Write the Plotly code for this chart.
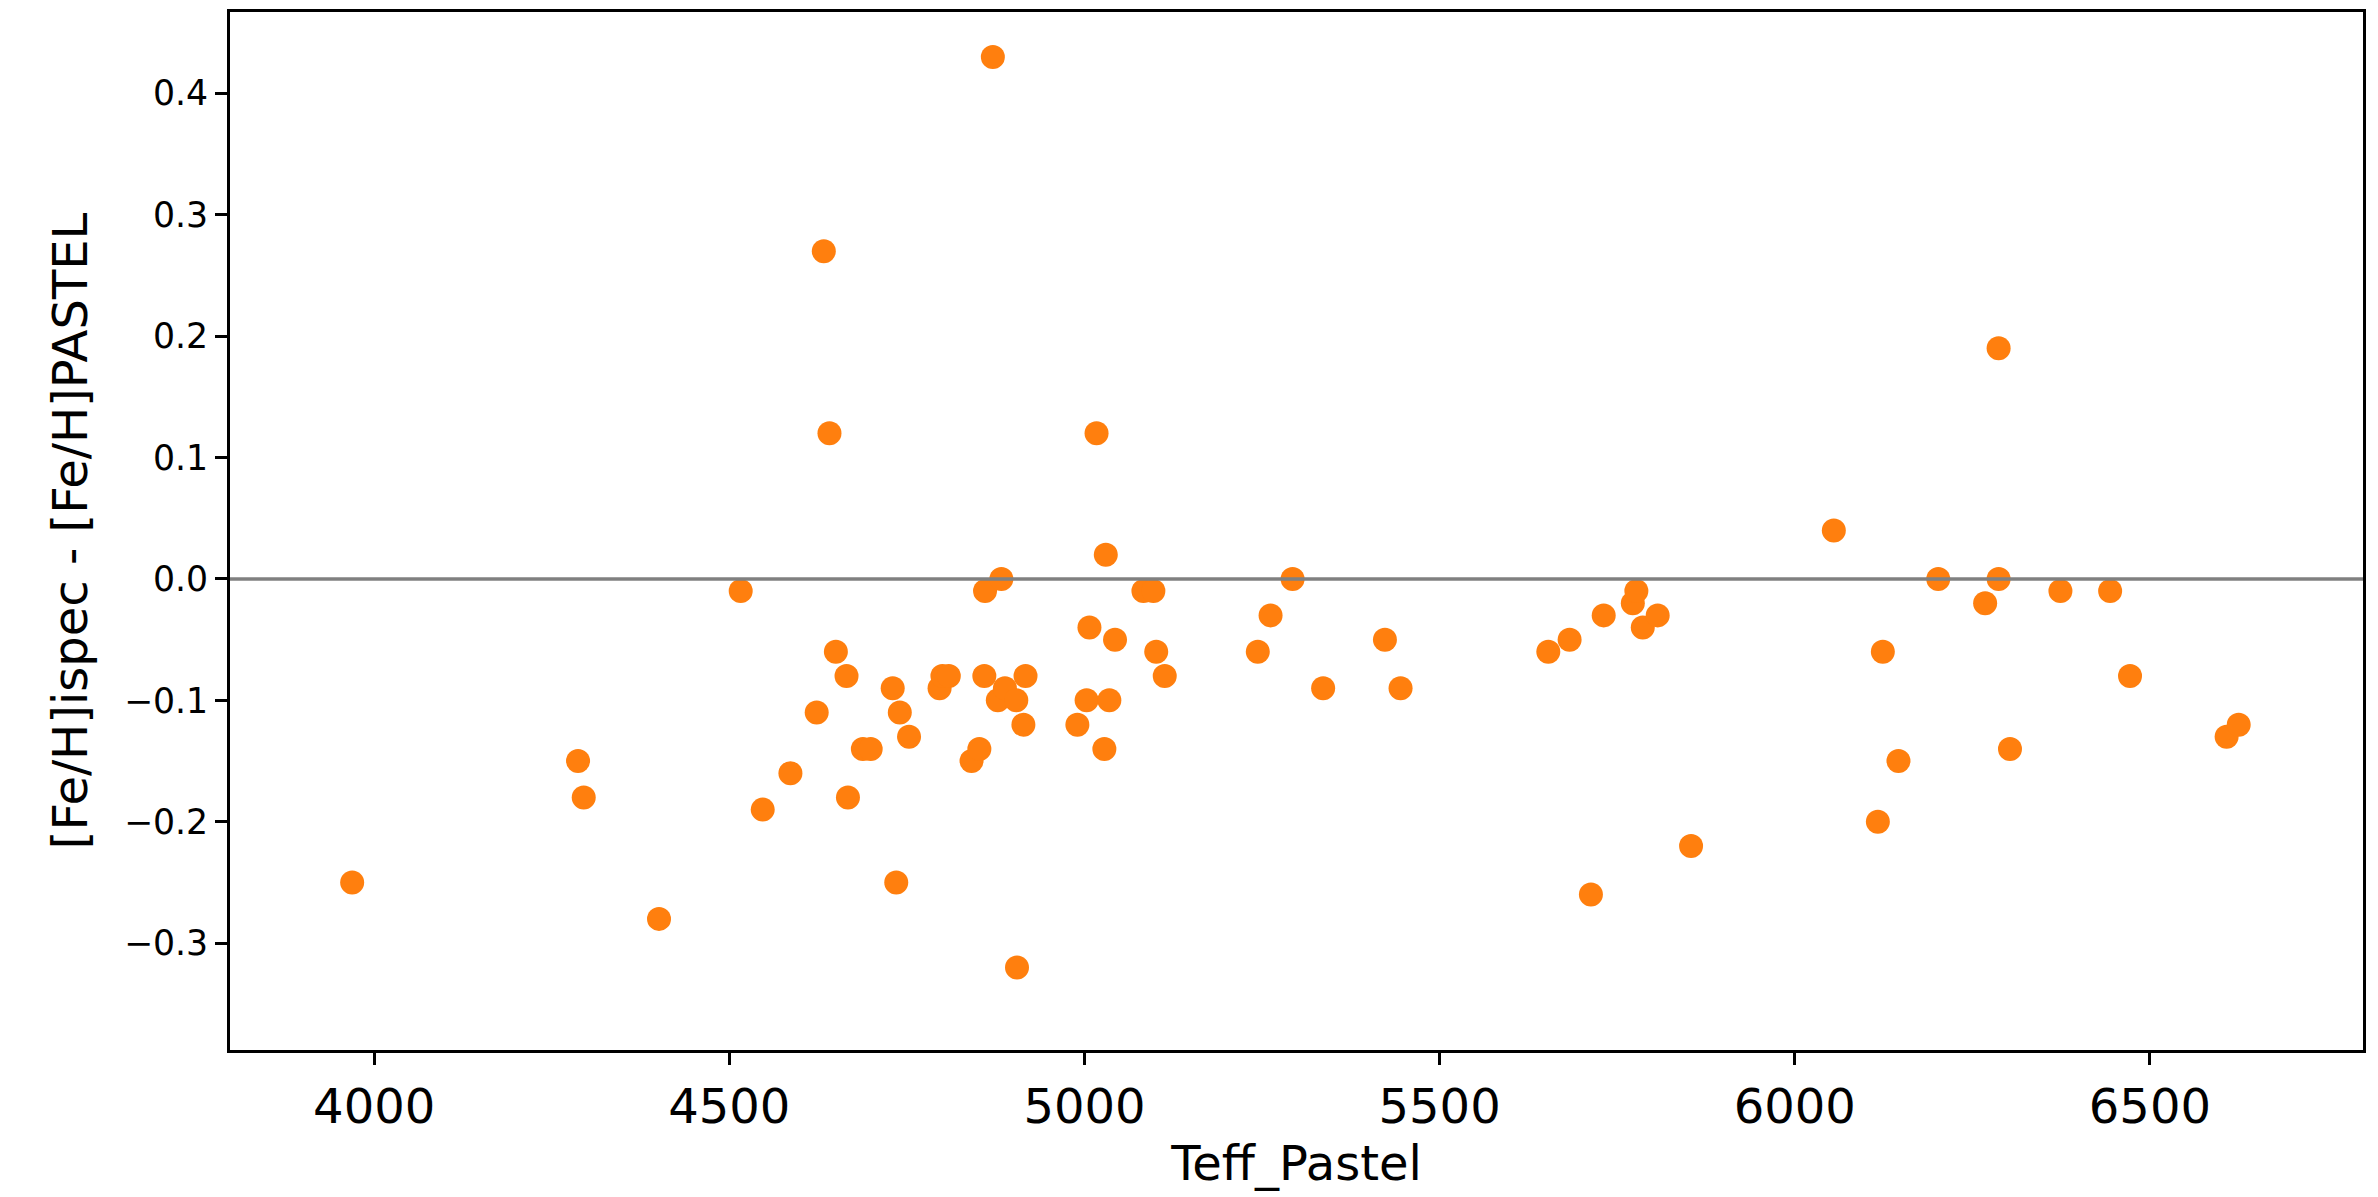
import plotly.graph_objects as go

teff_pastel = [
    3969, 4287, 4295, 4401, 4516, 4547, 4586, 4623, 4633, 4641,
    4650, 4665, 4667, 4688, 4699, 4730, 4735, 4740, 4753, 4796,
    4800, 4809, 4841, 4852, 4859, 4860, 4871, 4878, 4883, 4888,
    4904, 4905, 4914, 4917, 4990, 5003, 5007, 5017, 5028, 5030,
    5035, 5043, 5083, 5097, 5101, 5113, 5244, 5262, 5293, 5336,
    5423, 5445, 5653, 5683, 5713, 5731, 5772, 5777, 5786, 5807,
    5854, 6055, 6117, 6124, 6146, 6202, 6268, 6287, 6287, 6303,
    6374, 6444, 6472, 6608, 6625,
]
feh_diff = [
    -0.25, -0.15, -0.18, -0.28, -0.01, -0.19, -0.16, -0.11, 0.27, 0.12,
    -0.06, -0.08, -0.18, -0.14, -0.14, -0.09, -0.25, -0.11, -0.13, -0.09,
    -0.08, -0.08, -0.15, -0.14, -0.08, -0.01, 0.43, -0.10, 0.00, -0.09,
    -0.10, -0.32, -0.12, -0.08, -0.12, -0.10, -0.04, 0.12, -0.14, 0.02,
    -0.10, -0.05, -0.01, -0.01, -0.06, -0.08, -0.06, -0.03, 0.00, -0.09,
    -0.05, -0.09, -0.06, -0.05, -0.26, -0.03, -0.02, -0.01, -0.04, -0.03,
    -0.22, 0.04, -0.20, -0.06, -0.15, 0.00, -0.02, 0.19, 0.00, -0.14,
    -0.01, -0.01, -0.08, -0.13, -0.12,
]

x_ticks = [4000, 4500, 5000, 5500, 6000, 6500]
y_ticks = [-0.3, -0.2, -0.1, 0.0, 0.1, 0.2, 0.3, 0.4]
reference_level = 0.0

FONT = "DejaVu Sans"

fig = go.Figure()
fig.add_trace(go.Scatter(
    x=teff_pastel, y=feh_diff, mode="markers",
    marker=dict(color="#ff7f0e", size=24, line=dict(width=0)),
    showlegend=False,
))

fig.add_shape(type="line", xref="paper", x0=0, x1=1, yref="y",
              y0=reference_level, y1=reference_level,
              line=dict(color="#808080", width=3.5), layer="above")

fig.update_layout(
    width=2378, height=1197,
    margin=dict(l=230, r=15, t=12, b=147, autoexpand=False),
    paper_bgcolor="white", plot_bgcolor="white",
    font=dict(family=FONT, color="black"),
)
fig.update_xaxes(
    range=[3797, 6800], tickvals=x_ticks, ticktext=[str(v) for v in x_ticks],
    showgrid=False, zeroline=False,
    showline=True, linecolor="black", linewidth=2.8, mirror=True,
    ticks="outside", ticklen=12, tickwidth=2.8, tickcolor="black",
    tickfont=dict(family=FONT, size=48, color="black"),
    title=dict(text="Teff_Pastel", font=dict(family=FONT, size=48, color="black"), standoff=14),
    automargin=False,
)
fig.update_yaxes(
    range=[-0.388, 0.467], tickvals=y_ticks, tickformat=".1f",
    showgrid=False, zeroline=False,
    showline=True, linecolor="black", linewidth=2.8, mirror=True,
    ticks="outside", ticklen=12, tickwidth=2.8, tickcolor="black",
    tickfont=dict(family=FONT, size=34.7, color="black"),
    title=dict(text="[Fe/H]ispec - [Fe/H]PASTEL", font=dict(family=FONT, size=48, color="black"), standoff=22),
    automargin=False,
)

fig.write_html("out.html")
